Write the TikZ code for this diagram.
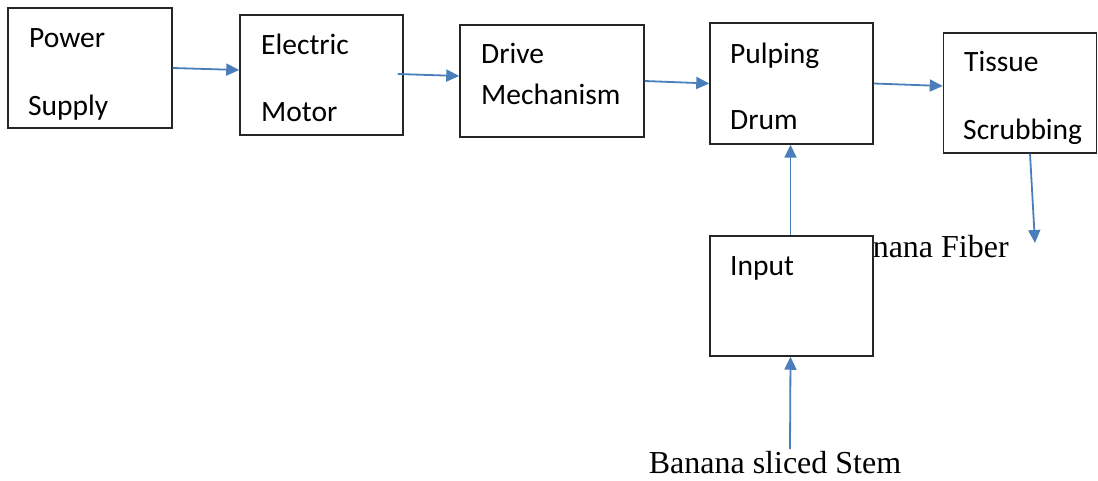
\documentclass[tikz,border=0pt]{standalone}
\usepackage{fontspec}
\setmainfont{Liberation Serif}
\newfontfamily\boxfont{Carlito}
\usetikzlibrary{arrows.meta}
\definecolor{arrowblue}{HTML}{4A7EBB}
\definecolor{boxline}{HTML}{262626}
\tikzset{
  blk/.style={draw=boxline, line width=1.5pt, fill=white, inner sep=0pt},
  lbl/.style={anchor=west, inner sep=0pt, font=\boxfont\fontsize{29.5}{34}\selectfont, text height=20pt, text depth=6pt},
  ext/.style={inner sep=0pt, font=\fontsize{32}{38}\selectfont, text height=20pt, text depth=4pt},
  flow/.style={draw=arrowblue, line width=1.8pt, -{Triangle[length=13pt,width=12pt]}}
}
\begin{document}
\begin{tikzpicture}[x=1pt,y=-1pt]
\useasboundingbox (0,0) rectangle (1098,481);
% Banana Fiber text (behind Input box)
\node[ext, anchor=west] (fiber) at (837,249.5) {Banana Fiber};
% boxes
\node[blk, minimum width=164pt, minimum height=120pt] (ps) at (90,68) {};
\node[blk, minimum width=163pt, minimum height=120pt] (em) at (321.5,75) {};
\node[blk, minimum width=184pt, minimum height=112pt] (dm) at (552,81) {};
\node[blk, minimum width=163pt, minimum height=121pt] (pd) at (791.5,83.5) {};
\node[blk, minimum width=153pt, minimum height=120pt] (ts) at (1020,93) {};
\node[blk, minimum width=163pt, minimum height=120pt] (in) at (791.5,296) {};
% labels
\node[lbl] (psa) at (29,41) {Power};
\node[lbl] (psb) at (28,109) {Supply};
\node[lbl] (ema) at (261,48) {Electric};
\node[lbl] (emb) at (261,115) {Motor};
\node[lbl] (dma) at (481,57) {Drive};
\node[lbl] (dmb) at (481,98) {Mechanism};
\node[lbl] (pda) at (730,57) {Pulping};
\node[lbl] (pdb) at (730,123) {Drum};
\node[lbl] (tsa) at (964,65) {Tissue};
\node[lbl] (tsb) at (963,133) {Scrubbing};
\node[lbl] (ina) at (730,269) {Input};
% bottom text
\node[ext] (stem) at (775,465.5) {Banana sliced Stem};
\coordinate (stemtop) at (790,449);
\coordinate (fiberend) at (1035,243);
% connectors
\draw[flow] (ps.east) -- ([yshift=5pt]em.west);
\draw[flow] ([xshift=-6pt,yshift=1pt]em.east) -- ([yshift=5pt]dm.west);
\draw[flow] (dm.east) -- (pd.west);
\draw[flow] (pd.east) -- ([yshift=7pt]ts.west);
\draw[flow] ([xshift=-1pt]in.north) -- ([xshift=-1pt]pd.south);
\draw[flow] ([xshift=10pt]ts.south) -- (fiberend);
\draw[flow] (stemtop) -- ([xshift=-1pt]in.south);
\end{tikzpicture}
\end{document}
